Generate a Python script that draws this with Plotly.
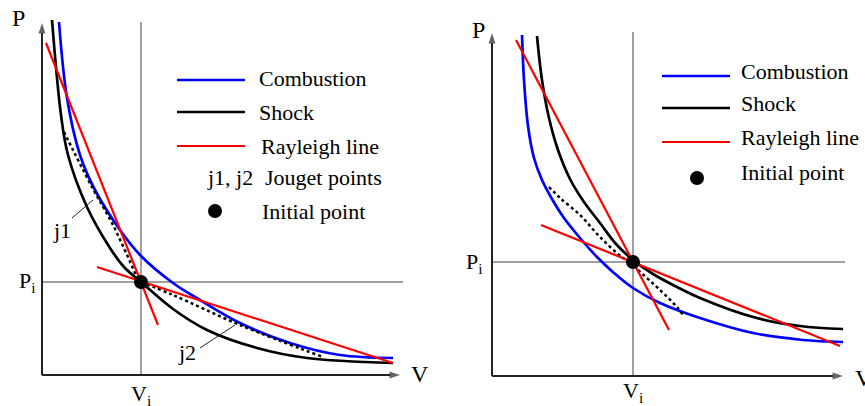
import plotly.graph_objects as go

# ---------------- data (arbitrary V/P units) ----------------
# Left panel
L_VI, L_PI = 99, 93
L_comb_v = [17, 25, 38, 53, 78, 99, 131, 158, 198, 248, 298, 351]
L_comb_p = [353, 277, 220, 185, 145, 119, 92, 75, 52, 32, 20, 17]
L_shock_v = [10, 19, 26, 45, 68, 82, 99, 131, 165, 215, 265, 351]
L_shock_p = [355, 260, 220, 168, 127, 108, 93, 66, 45, 27, 17, 12]
L_dot1_v = [22, 26, 50, 70, 86, 95, 99]
L_dot1_p = [243, 235, 188, 152, 118, 98, 93]
L_dot2_v = [99, 131, 198, 281]
L_dot2_p = [93, 80, 50, 18]
L_ray1_v = [4, 116]
L_ray1_p = [332, 50]
L_ray2_v = [55, 351]
L_ray2_p = [108, 12]
L_xmax, L_ymax = 358, 352
L_vline_top, L_hline_end = 353, 361

# Right panel
R_VI, R_PI = 141, 114
R_comb_v = [30, 32, 36, 42, 50, 60, 72, 88, 105, 122, 141, 168, 208, 261, 311, 351]
R_comb_p = [341, 296, 250, 218, 196, 177, 158, 138, 119, 103, 88, 73, 58, 43, 36, 34]
R_shock_v = [45, 50, 57, 66, 78, 92, 108, 124, 141, 161, 185, 208, 261, 308, 351]
R_shock_p = [340, 296, 258, 226, 197, 174, 153, 132, 116, 102, 89, 78, 59, 50, 47]
R_dot1_v = [57, 68, 88, 108, 131, 139]
R_dot1_p = [189, 178, 161, 139, 118, 114]
R_dot2_v = [146, 168, 185, 191]
R_dot2_p = [106, 86, 69, 61]
R_ray1_v = [24, 177]
R_ray1_p = [336, 46]
R_ray2_v = [49, 348]
R_ray2_p = [151, 30]
R_xmax, R_ymax = 351, 343
R_vline_top, R_hline_end = 344, 353

legend_labels = ["Combustion", "Shock", "Rayleigh line"]
legend_colors = ["#0000ff", "#000000", "#ff0000"]

FONT = "Liberation Serif, Times New Roman, DejaVu Serif, serif"
fig = go.Figure()


def line(xs, ys, color, width, xa, ya, dash="solid", shape="spline"):
    fig.add_trace(go.Scatter(x=xs, y=ys, mode="lines", xaxis=xa, yaxis=ya,
                             line=dict(color=color, width=width, dash=dash, shape=shape, smoothing=1.0),
                             hoverinfo="skip", showlegend=False))


def text(xa, ya, x, y, s, size=22, anchor="center"):
    fig.add_annotation(xref=xa, yref=ya, x=x, y=y, text=s, showarrow=False,
                       xanchor=anchor, font=dict(family=FONT, size=size, color="black"))


def axis_arrow(xa, ya, xs, ys):
    fig.add_trace(go.Scatter(x=xs, y=ys, mode="lines+markers", xaxis=xa, yaxis=ya,
                             line=dict(color="#222222", width=2),
                             marker=dict(symbol="arrow", size=[0, 11], angleref="previous",
                                         color="#222222", line=dict(width=0)),
                             hoverinfo="skip", showlegend=False))


# ---------------- left panel ----------------
xa, ya = "x", "y"
line([L_VI, L_VI], [0, L_vline_top], "#808080", 1.5, xa, ya, shape="linear")
line([0, L_hline_end], [L_PI, L_PI], "#808080", 1.5, xa, ya, shape="linear")
line(L_comb_v, L_comb_p, "#0000ff", 2.7, xa, ya)
line(L_shock_v, L_shock_p, "#000000", 2.7, xa, ya)
line(L_dot1_v, L_dot1_p, "#000000", 2.5, xa, ya, dash="dot")
line(L_dot2_v, L_dot2_p, "#000000", 2.5, xa, ya, dash="dot")
line(L_ray1_v, L_ray1_p, "#ff0000", 2.2, xa, ya, shape="linear")
line(L_ray2_v, L_ray2_p, "#ff0000", 2.2, xa, ya, shape="linear")
fig.add_trace(go.Scatter(x=[L_VI], y=[L_PI], mode="markers", xaxis=xa, yaxis=ya,
                         marker=dict(color="black", size=14), hoverinfo="skip", showlegend=False))
axis_arrow(xa, ya, [0, 0], [0, L_ymax])
axis_arrow(xa, ya, [0, L_xmax], [0, 0])
# j1 / j2 leaders
line([30, 51], [157, 175], "#222222", 1, xa, ya, shape="linear")
line([158, 193], [27, 50], "#222222", 1, xa, ya, shape="linear")
text(xa, ya, 20, 145, "j1")
text(xa, ya, 145, 23, "j2")
text(xa, ya, -24, 357, "P", size=24)
text(xa, ya, 378, 1, "V", size=24)
text(xa, ya, -15, 93, "P<sub>i</sub>")
text(xa, ya, 99, -20, "V<sub>i</sub>")
# legend
for i, (lab, col) in enumerate(zip(legend_labels, legend_colors)):
    yy = [295, 263, 229][i]
    line([135, 203], [yy, yy], col, 2.7 if i < 2 else 2, xa, ya, shape="linear")
    text(xa, ya, 215 if i < 2 else 217, yy + 2 if i == 0 else yy, lab, anchor="left")
text(xa, ya, 163, 198, "j1, j2", anchor="left")
text(xa, ya, 221, 198, "Jouget points", anchor="left")
fig.add_trace(go.Scatter(x=[173], y=[164], mode="markers", xaxis=xa, yaxis=ya,
                         marker=dict(color="black", size=14), hoverinfo="skip", showlegend=False))
text(xa, ya, 218, 164, "Initial point", anchor="left")

# ---------------- right panel ----------------
xa, ya = "x2", "y2"
line([R_VI, R_VI], [0, R_vline_top], "#808080", 1.5, xa, ya, shape="linear")
line([0, R_hline_end], [R_PI, R_PI], "#808080", 1.5, xa, ya, shape="linear")
line(R_comb_v, R_comb_p, "#0000ff", 2.7, xa, ya)
line(R_shock_v, R_shock_p, "#000000", 2.7, xa, ya)
line(R_dot1_v, R_dot1_p, "#000000", 2.5, xa, ya, dash="dot")
line(R_dot2_v, R_dot2_p, "#000000", 2.5, xa, ya, dash="dot")
line(R_ray1_v, R_ray1_p, "#ff0000", 2.2, xa, ya, shape="linear")
line(R_ray2_v, R_ray2_p, "#ff0000", 2.2, xa, ya, shape="linear")
fig.add_trace(go.Scatter(x=[R_VI], y=[R_PI], mode="markers", xaxis=xa, yaxis=ya,
                         marker=dict(color="black", size=14), hoverinfo="skip", showlegend=False))
axis_arrow(xa, ya, [0, 0], [0, R_ymax])
axis_arrow(xa, ya, [0, R_xmax], [0, 0])
text(xa, ya, -14, 346, "P", size=24)
text(xa, ya, 372, -2, "V", size=24)
text(xa, ya, -18, 113, "P<sub>i</sub>")
text(xa, ya, 141, -16, "V<sub>i</sub>")
for i, (lab, col) in enumerate(zip(legend_labels, legend_colors)):
    yy = [300, 268, 234][i]
    line([170, 238], [yy, yy], col, 2.7 if i < 2 else 2, xa, ya, shape="linear")
    text(xa, ya, 247, yy + 5, lab, anchor="left")
fig.add_trace(go.Scatter(x=[205], y=[198], mode="markers", xaxis=xa, yaxis=ya,
                         marker=dict(color="black", size=14), hoverinfo="skip", showlegend=False))
text(xa, ya, 247, 204, "Initial point", anchor="left")

ax_common = dict(visible=False, showgrid=False, zeroline=False, fixedrange=True)
fig.update_layout(
    width=865, height=406, margin=dict(l=0, r=0, t=0, b=0, pad=0, autoexpand=False),
    paper_bgcolor="white", plot_bgcolor="white", showlegend=False,
    xaxis=dict(domain=[0, 430 / 865], range=[-42, 388], **ax_common),
    yaxis=dict(domain=[0, 1], range=[-31, 375], **ax_common),
    xaxis2=dict(domain=[430 / 865, 1], range=[-62, 373], anchor="y2", **ax_common),
    yaxis2=dict(domain=[0, 1], range=[-30, 376], anchor="x2", **ax_common),
)
fig.write_html(
    "out.html",
    config={"displayModeBar": False, "staticPlot": True},
    post_script="document.body.style.margin='0';document.body.style.overflow='hidden';",
)
